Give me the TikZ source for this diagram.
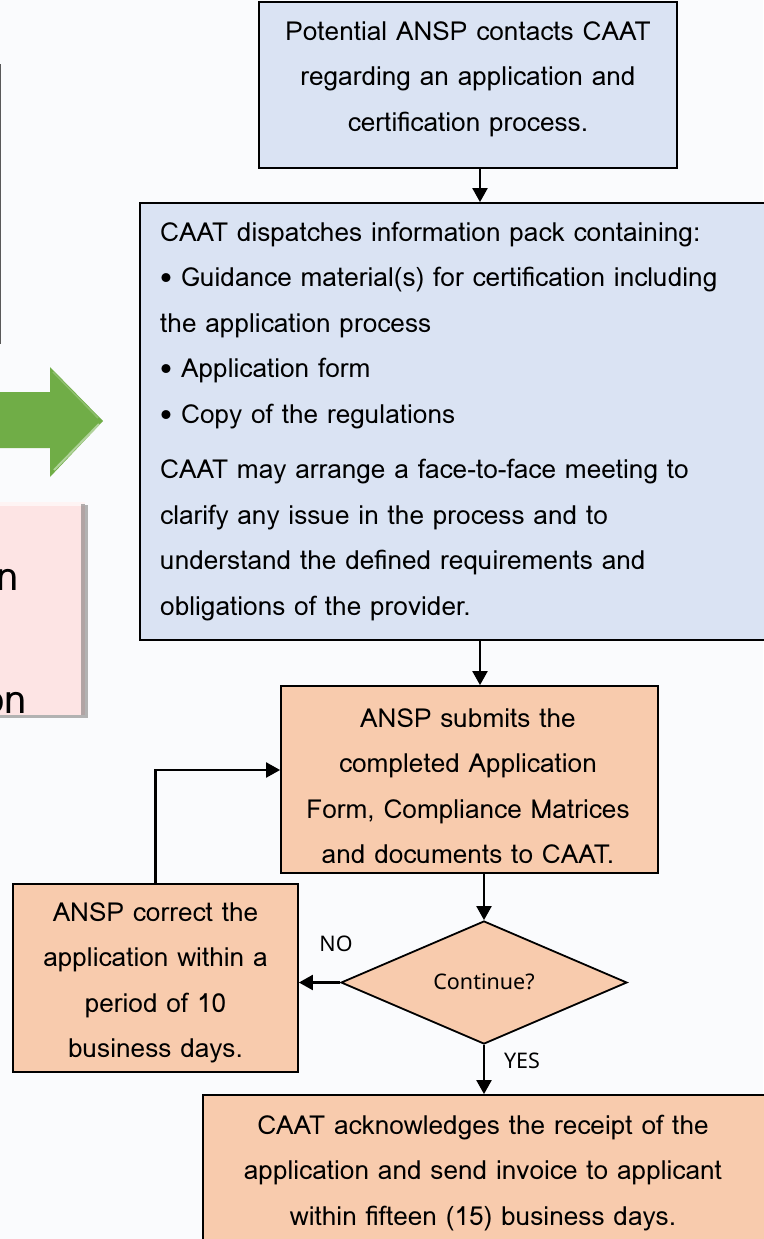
\documentclass[tikz,border=0pt]{standalone}
\usepackage{fontspec}
\setmainfont{Loma}
\newfontfamily\lblfont{Noto Sans}
\usetikzlibrary{arrows.meta,shapes.geometric}
\definecolor{bgc}{RGB}{250,251,253}
\definecolor{bluefill}{RGB}{218,227,243}
\definecolor{peach}{RGB}{248,203,173}
\definecolor{pinkfill}{RGB}{253,228,228}
\definecolor{arrowgreen}{RGB}{112,173,71}
\tikzset{
  boxb/.style={draw=black, line width=1.8pt, fill=bluefill, inner sep=0pt},
  boxp/.style={draw=black, line width=1.8pt, fill=peach, inner sep=0pt},
  txt/.style={inner sep=0pt, font=\fontsize{26.2}{45.5}\selectfont},
  lbl/.style={inner sep=0pt, font=\lblfont\fontsize{21.5}{24}\selectfont},
  conn/.style={line width=2.2pt, -{Triangle[length=14pt,width=15pt]}},
}
\begin{document}
\begin{tikzpicture}[x=1pt,y=-1pt]
\useasboundingbox (0,0) rectangle (763,1239);
\fill[bgc] (0,0) rectangle (763,1239);
% partial left box
\node[draw=gray!70!black, line width=1pt, minimum width=200pt, minimum height=278pt, inner sep=0pt] (lefttop) at (-99.3,204) {};
% green arrow
\fill[arrowgreen] (-5,392) -- (50,392) -- (50,367) -- (103,421) -- (50,477) -- (50,448) -- (-5,448) -- cycle;
\draw[arrowgreen!55!white, line width=2pt] (99,424) -- (54,470);
\draw[arrowgreen!80!white, line width=1.5pt] (53,372) -- (98,418);
% pink box
\fill[gray!60] (-10,505) rectangle (88,718);
\node[fill=pinkfill, minimum width=95pt, minimum height=213pt, inner sep=0pt] (pink) at (37.5,608.5) {};
\fill[white, opacity=0.6] (-10,502) rectangle (85,506);
\fill[gray!80!black, opacity=0.5] (81,504) rectangle (85,715);
\node[txt, font=\fontsize{40}{42}\selectfont, anchor=base east] (pinkn) at (19,590) {n};
\node[txt, font=\fontsize{40}{42}\selectfont, anchor=base east] (pinkon) at (27,713) {on};
% boxes
\node[boxb, minimum width=418pt, minimum height=166pt] (top) at (468,85) {};
\node[txt, align=center] (toptxt) at (468,79) {Potential ANSP contacts CAAT\\regarding an application and\\certification process.};
\node[boxb, minimum width=630pt, minimum height=437pt] (box2) at (455,421.5) {};
\node[txt, align=left, anchor=west] (box2txt) at (160,421.5) {CAAT dispatches information pack containing:\\
• Guidance material(s) for certification including\\
the application process\\
• Application form\\
• Copy of the regulations\\[10pt]
CAAT may arrange a face-to-face meeting to\\
clarify any issue in the process and to\\
understand the defined requirements and\\
obligations of the provider.};
\node[boxp, minimum width=377pt, minimum height=187pt] (box3) at (469.5,779.5) {};
\node[txt, align=center] (box3txt) at (468,786) {ANSP submits the\\completed Application\\Form, Compliance Matrices\\and documents to CAAT.};
\node[boxp, shape=diamond, minimum width=286pt, minimum height=123pt] (dia) at (484,982.5) {};
\node[lbl] (diatxt) at (484,982) {Continue?};
\node[boxp, minimum width=285pt, minimum height=188pt] (left) at (155.5,978) {};
\node[txt, align=center] (lefttxt) at (155.5,983) {ANSP correct the\\application within a\\period of 10\\business days.};
\node[boxp, minimum width=577pt, minimum height=165pt] (bot) at (491.5,1177.5) {};
\node[txt, align=center] (bottxt) at (483,1173) {CAAT acknowledges the receipt of the\\application and send invoice to applicant\\within fifteen (15) business days.};
% labels
\node[lbl] (no) at (336,943.5) {NO};
\node[lbl] (yes) at (522,1061) {YES};
% connectors
\draw[conn] (top.south -| 480,0) -- (box2.north -| 480,0);
\draw[conn] (box2.south -| 480,0) -- (box3.north -| 480,0);
\draw[conn] (box3.south -| dia.north) -- (dia.north);
\draw[conn] (dia.west) -- (left.east |- dia.west);
\draw[conn] (left.north) |- ([yshift=9.5pt]box3.west);
\draw[conn] (dia.south) -- (bot.north -| dia.south);
\end{tikzpicture}
\end{document}
